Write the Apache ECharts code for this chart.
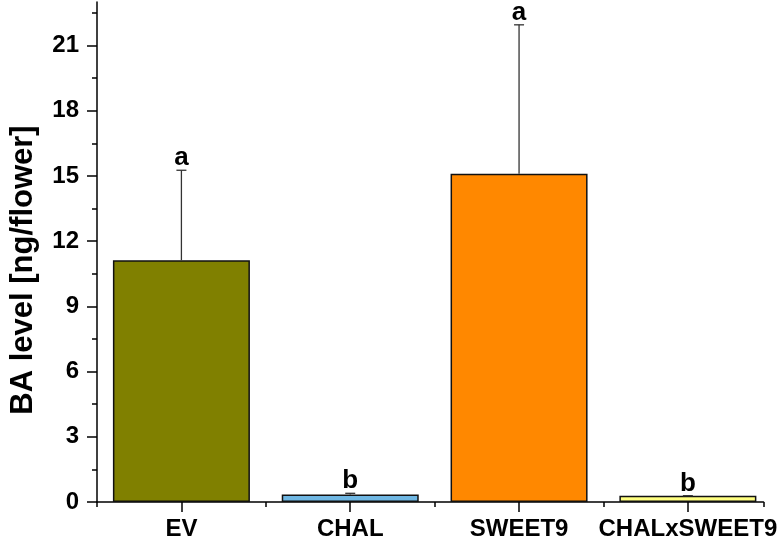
<!DOCTYPE html>
<html>
<head>
<meta charset="utf-8">
<script src="https://cdn.jsdelivr.net/npm/echarts@6/dist/echarts.min.js"></script>
<style>html,body{margin:0;padding:0;background:#fff}#c{width:780px;height:541px}</style>
</head>
<body>
<div id="c"></div>
<script>
const categories = ['EV', 'CHAL', 'SWEET9', 'CHALxSWEET9'];
const means = [11.12, 0.34, 15.1, 0.29];
const errors = [4.14, 0.06, 6.85, 0.0];
const letters = ['a', 'b', 'a', 'b'];
const colors = ['#808000', '#6fb7e3', '#ff8800', '#ffff80'];
const yMajorTicks = [0, 3, 6, 9, 12, 15, 18, 21];
const yMinorTicks = [1.5, 4.5, 7.5, 10.5, 13.5, 16.5, 19.5, 22.5];
const xPositions = [1, 2, 3, 4];
const xMinorTicks = [0.5, 1.5, 2.5, 3.5, 4.448];

const FONT = '"Liberation Sans", Arial, sans-serif';
const chart = echarts.init(document.getElementById('c'));

const barData = means.map((v, i) => ({
  value: [xPositions[i], v],
  itemStyle: { color: colors[i] }
}));
const errData = means.map((v, i) => [xPositions[i], v, v + errors[i], letters[i]]);

chart.setOption({
  animation: false,
  grid: { left: 95, right: 15, top: 2, bottom: 38, containLabel: false },
  xAxis: [{
    type: 'value', min: 0.5, max: 4.448,
    axisLine: { show: true, onZero: false, lineStyle: { color: '#000', width: 1.5 } },
    axisTick: { show: true, length: 10, inside: false, customValues: xPositions, lineStyle: { color: '#000', width: 1.5 } },
    axisLabel: {
      customValues: xPositions, margin: 15,
      formatter: v => categories[Math.round(v) - 1] || '',
      color: '#000', fontFamily: FONT, fontWeight: 'bold', fontSize: 24
    },
    splitLine: { show: false }
  }, {
    type: 'value', min: 0.5, max: 4.448, position: 'bottom',
    axisLine: { show: false },
    axisTick: { show: true, length: 5, customValues: xMinorTicks, lineStyle: { color: '#000', width: 1.5 } },
    axisLabel: { show: false },
    splitLine: { show: false }
  }],
  yAxis: [{
    type: 'value', min: 0, max: 23,
    name: 'BA level [ng/flower]', nameLocation: 'middle', nameGap: 58,
    nameTextStyle: { color: '#000', fontFamily: FONT, fontWeight: 'bold', fontSize: 31, padding: [0, 36, 0, 0] },
    axisLine: { show: true, onZero: false, lineStyle: { color: '#000', width: 1.5 } },
    axisTick: { show: true, length: 10, customValues: yMajorTicks, lineStyle: { color: '#000', width: 1.5 } },
    axisLabel: { customValues: yMajorTicks, margin: 18, color: '#000', fontFamily: FONT, fontWeight: 'bold', fontSize: 24 },
    splitLine: { show: false }
  }, {
    type: 'value', min: 0, max: 23, position: 'left',
    axisLine: { show: false },
    axisTick: { show: true, length: 5, customValues: yMinorTicks, lineStyle: { color: '#000', width: 1.5 } },
    axisLabel: { show: false },
    splitLine: { show: false }
  }],
  series: [{
    type: 'bar', xAxisIndex: 0, yAxisIndex: 0,
    barWidth: 137,
    data: barData,
    itemStyle: { borderColor: '#111', borderWidth: 1.5 }
  }, {
    type: 'custom', xAxisIndex: 0, yAxisIndex: 0,
    data: errData,
    renderItem: function (params, api) {
      const x = api.value(0);
      const base = api.coord([x, api.value(1)]);
      const top = api.coord([x, api.value(2)]);
      const cw = 5;
      return {
        type: 'group',
        children: [
          { type: 'line', shape: { x1: base[0], y1: base[1], x2: top[0], y2: top[1] }, style: { stroke: '#333', lineWidth: 1.3 } },
          { type: 'line', shape: { x1: top[0] - cw, y1: top[1], x2: top[0] + cw, y2: top[1] }, style: { stroke: '#333', lineWidth: 1.3 } },
          { type: 'text', x: top[0], y: top[1] + 1, style: { text: api.value(3), fill: '#000', font: 'bold 26px ' + FONT, align: 'center', verticalAlign: 'bottom' } }
        ]
      };
    },
    z: 5
  }]
});
</script>
</body>
</html>
